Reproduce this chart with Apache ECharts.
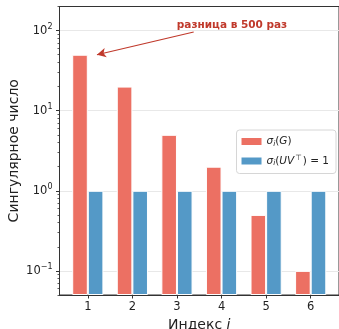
<!DOCTYPE html>
<html>
<head>
<meta charset="utf-8">
<script src="https://cdn.jsdelivr.net/npm/echarts@6/dist/echarts.min.js"></script>
<style>
  html, body { margin: 0; padding: 0; background: #fff; }
  #chart { width: 339px; height: 329px; }
</style>
</head>
<body>
<div id="chart"></div>
<script>
// data
const indices = [1, 2, 3, 4, 5, 6];
const sigmaG = [50, 20, 5, 2, 0.5, 0.1];
const sigmaUV = [1, 1, 1, 1, 1, 1];
const majorTicks = [0.1, 1, 10, 100];
const minorTicks = [0.05, 0.06, 0.07, 0.08, 0.09,
    0.2, 0.3, 0.4, 0.5, 0.6, 0.7, 0.8, 0.9,
    2, 3, 4, 5, 6, 7, 8, 9,
    20, 30, 40, 50, 60, 70, 80, 90, 200];
const arrowFrom = [3.55, 96];
const arrowTo = [1.38, 50];
const noteAt = [4.41, 117];
const noteText = "разница в 500 раз";

const font = "DejaVu Sans";
const ink = "#222";

function powLabel(v) {
    const e = Math.round(Math.log10(v));
    const s = e < 0 ? "\u2212" + Math.abs(e) : String(e);
    return "{b|10}{s|" + s + "}";
}

let chart = echarts.init(document.getElementById("chart"), null, { renderer: "canvas" });
chart.setOption({
    animation: false,
    textStyle: { fontFamily: font },
    grid: {
        left: 59.5, right: 0, top: 6.5, bottom: 34,
        outerBoundsMode: "none",
        containLabel: false,
        show: true, borderColor: "#333", borderWidth: 1
    },
    legend: {
        orient: "vertical",
        right: 3, top: 130,
        padding: [6, 7, 6, 5],
        itemGap: 6,
        itemWidth: 20, itemHeight: 7,
        icon: "rect",
        backgroundColor: "#fff",
        borderColor: "#d6d6d6", borderWidth: 1, borderRadius: 3,
        itemStyle: { borderWidth: 0 },
        formatter: name => name === "g"
            ? "{i|σ}{sub|i}{n|(}{i|G}{n|)}"
            : "{i|σ}{sub|i}{n|(}{i|UV}{sup|⊤}{n|) = 1}",
        textStyle: {
            fontFamily: font, fontSize: 10.5, color: ink,
            rich: {
                i: { fontFamily: font, fontSize: 10.5, fontStyle: "italic", color: ink },
                n: { fontFamily: font, fontSize: 10.5, color: ink },
                sub: { fontFamily: font, fontSize: 7.5, fontStyle: "italic", color: ink, padding: [5, 0, 0, 0] },
                sup: { fontFamily: font, fontSize: 7.5, color: ink, padding: [0, 1, 6, 1] }
            }
        },
        data: ["g", "uv"]
    },
    xAxis: {
        type: "value",
        min: 0.365, max: 6.635,
        name: "Индекс {it|i}",
        nameLocation: "middle",
        nameGap: 21,
        nameTextStyle: {
            fontFamily: font, fontSize: 14, color: ink,
            rich: { it: { fontFamily: font, fontSize: 14, fontStyle: "italic", color: ink } }
        },
        axisLine: { onZero: false, lineStyle: { color: "#333", width: 1 } },
        axisTick: { customValues: indices, length: 3.5, lineStyle: { color: "#333" } },
        axisLabel: { customValues: indices, fontFamily: font, fontSize: 11.5, color: ink, margin: 6 },
        splitLine: { show: false }
    },
    yAxis: [{
        type: "log",
        logBase: 10,
        min: 0.05, max: 200,
        startValue: 0.05,
        name: "Сингулярное число",
        nameLocation: "middle",
        nameGap: 38,
        nameMoveOverlap: false,
        nameTextStyle: { fontFamily: font, fontSize: 14, color: ink },
        axisLine: { show: true, lineStyle: { color: "#333", width: 1 } },
        axisTick: { customValues: majorTicks, length: 3.5, lineStyle: { color: "#333" } },
        axisLabel: {
            customValues: majorTicks,
            margin: 7,
            formatter: powLabel,
            rich: {
                b: { fontFamily: font, fontSize: 11.5, color: ink },
                s: { fontFamily: font, fontSize: 8, color: ink, padding: [0, 0, 7, 0] }
            }
        },
        splitLine: { show: true, lineStyle: { color: "#e8e8e8", width: 1 } }
    }, {
        type: "log",
        logBase: 10,
        min: 0.05, max: 200,
        position: "left",
        offset: 0,
        axisLine: { show: false },
        axisTick: { show: true, customValues: minorTicks, length: 2, lineStyle: { color: "#333", width: 0.8 } },
        axisLabel: { show: false },
        splitLine: { show: false }
    }],
    series: [{
        name: "g",
        type: "bar",
        yAxisIndex: 0,
        barWidth: 15.6,
        barGap: 0,
        itemStyle: { color: "#ec7063", borderColor: "#fff", borderWidth: 1 },
        data: indices.map((x, k) => [x, sigmaG[k]]),
        markLine: {
            silent: true,
            symbol: ["none", "arrow"],
            symbolSize: [7, 9],
            lineStyle: { color: "#c0392b", width: 1.2, type: "solid" },
            label: { show: false },
            data: [[{ coord: arrowFrom }, { coord: arrowTo }]]
        },
        markPoint: {
            silent: true,
            symbol: "circle",
            symbolSize: 0,
            label: {
                show: true,
                formatter: noteText,
                fontFamily: font, fontSize: 10.5, fontWeight: "bold", color: "#c0392b",
                position: "inside"
            },
            data: [{ coord: noteAt }]
        }
    }, {
        name: "uv",
        type: "bar",
        yAxisIndex: 0,
        barWidth: 15.6,
        barGap: 0,
        itemStyle: { color: "#5499c7", borderColor: "#fff", borderWidth: 1 },
        data: indices.map((x, k) => [x, sigmaUV[k]])
    }]
});
</script>
</body>
</html>
